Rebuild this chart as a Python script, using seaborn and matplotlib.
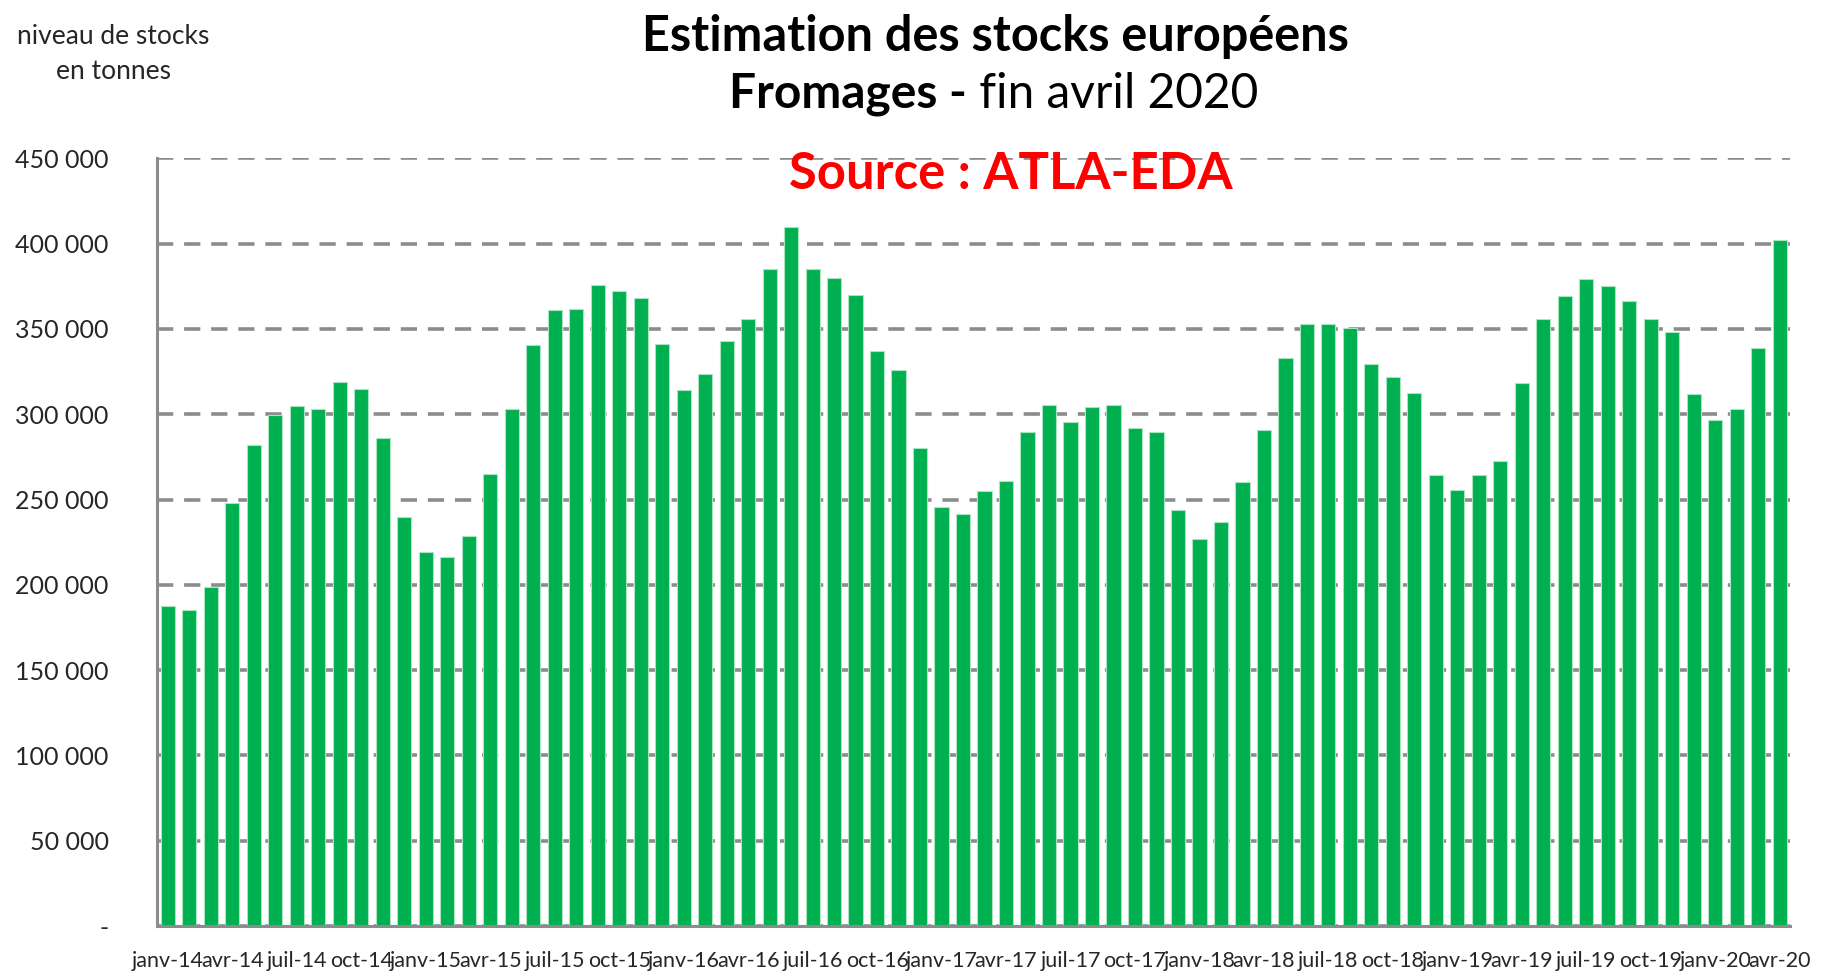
import matplotlib
matplotlib.use("Agg")
import matplotlib.pyplot as plt
import seaborn as sns
import pandas as pd
import numpy as np

# ---- data ----
month_names = ["janv", "févr", "mars", "avr", "mai", "juin",
               "juil", "août", "sept", "oct", "nov", "déc"]
years = ["14", "15", "16", "17", "18", "19", "20"]
months = [f"{m}-{y}" for y in years for m in month_names][:76]

stocks = [187300, 185300, 198500, 248100, 282100, 299700, 304800, 303200,
          319000, 315000, 286200, 239600, 219300, 216200, 228500, 265100,
          303200, 340400, 360800, 361500, 375800, 372500, 368300, 341200,
          314200, 323400, 342900, 355700, 385200, 409900, 385200, 380100,
          369900, 337100, 326100, 280100, 245500, 241400, 254900, 260800,
          289500, 305600, 295400, 304000, 305600, 292100, 289500, 244000,
          227000, 237100, 260000, 290500, 332800, 353100, 353100, 350600,
          329400, 321800, 312400, 264300, 255700, 264300, 272700, 318300,
          355700, 369200, 379300, 375200, 366600, 355700, 348000, 311600,
          296400, 303200, 338600, 402200]

y_ticks = [0, 50000, 100000, 150000, 200000, 250000, 300000, 350000, 400000, 450000]
y_tick_labels = ["-", "50 000", "100 000", "150 000", "200 000", "250 000",
                 "300 000", "350 000", "400 000", "450 000"]

df = pd.DataFrame({"mois": months, "stock": stocks})

# ---- style ----
sns.set_style("white")
plt.rcParams["font.family"] = ["Lato", "DejaVu Sans"]

fig = plt.figure(figsize=(18.27, 9.71), dpi=100)
ax = fig.add_axes([0.086, 0.0463, 0.894, 0.7907])

sns.barplot(data=df, x="mois", y="stock", order=months, color="#00B050",
            saturation=1, width=0.66, edgecolor="#a8e6c0", linewidth=0.8, ax=ax)

ax.set_xlim(-0.5, len(months) - 0.5)
ax.set_ylim(0, 450000)
ax.set_axisbelow(True)

# y axis
ax.set_yticks(y_ticks)
ax.set_yticklabels(y_tick_labels, fontsize=18, color="#262626")
ax.yaxis.grid(True, linestyle=(0, (4.5, 3)), color="#8c8c8c", linewidth=2.6)
ax.tick_params(axis="y", which="major", direction="out", length=7, width=1.5,
               color="#8c8c8c", pad=28)
for lab in ax.get_yticklabels():
    lab.set_horizontalalignment("right")

# x axis: boundary ticks (major, no label), label positions (minor)
label_idx = list(range(0, len(months), 3))
ax.set_xticks([i - 0.5 for i in label_idx])
ax.set_xticklabels([])
ax.set_xticks(label_idx, minor=True)
ax.set_xticklabels([months[i] for i in label_idx], minor=True, fontsize=15.5,
                   color="#262626")
ax.tick_params(axis="x", which="major", direction="out", length=9, width=1.5,
               color="#8c8c8c")
ax.tick_params(axis="x", which="minor", length=0, pad=18)

for side in ["top", "right"]:
    ax.spines[side].set_visible(False)
for side in ["left", "bottom"]:
    ax.spines[side].set_color("#8c8c8c")
    ax.spines[side].set_linewidth(2.2)
ax.set_xlabel("")
ax.set_ylabel("")

# ---- texts ----
fig.text(0.062, 0.962, "niveau de stocks", ha="center", va="center",
         fontsize=19, color="#262626")
fig.text(0.062, 0.926, "en tonnes", ha="center", va="center",
         fontsize=19, color="#262626")

fig.text(0.545, 0.962, "Estimation des stocks européens", ha="center",
         va="center", fontsize=35, fontweight="bold", color="black")

t1 = fig.text(0, 0.903, "Fromages -", ha="left", va="center", fontsize=34.5,
              fontweight="bold", color="black")
t2 = fig.text(0, 0.903, " fin avril 2020", ha="left", va="center",
              fontsize=34.5, color="black")
fig.canvas.draw()
r = fig.canvas.get_renderer()
w1 = t1.get_window_extent(r).width / fig.bbox.width
w2 = t2.get_window_extent(r).width / fig.bbox.width
cx = 0.544
x0 = cx - (w1 + w2) / 2
t1.set_x(x0)
t2.set_x(x0 + w1)

fig.text(0.553, 0.82, "Source : ATLA-EDA", ha="center", va="center",
         fontsize=36.5, fontweight="bold", color="#FF0000")

fig.savefig("out.png", dpi=100)
